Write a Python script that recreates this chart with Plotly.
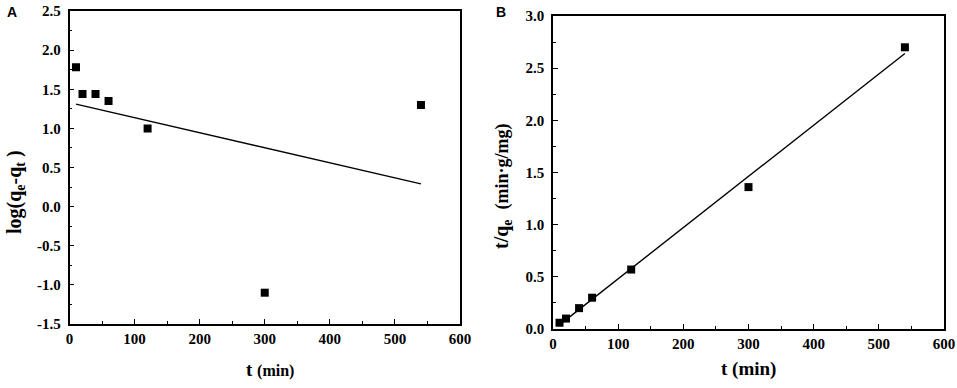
import plotly.graph_objects as go

# Panel A: pseudo-first-order
t_a = [10, 20, 40, 60, 120, 300, 540]
log_qe_qt = [1.78, 1.44, 1.44, 1.35, 1.00, -1.10, 1.30]
fit_a_t = [10, 540]
fit_a_y = [1.31, 0.29]

# Panel B: pseudo-second-order
t_b = [10, 20, 40, 60, 120, 300, 540]
t_over_qe = [0.06, 0.10, 0.20, 0.30, 0.57, 1.36, 2.70]
fit_b_t = [10, 540]
fit_b_y = [0.04, 2.64]

x_ticks = [0, 100, 200, 300, 400, 500, 600]
ya_ticks = [-1.5, -1.0, -0.5, 0.0, 0.5, 1.0, 1.5, 2.0, 2.5]
yb_ticks = [0.0, 0.5, 1.0, 1.5, 2.0, 2.5, 3.0]

W, H = 957, 388
serif = "Liberation Serif, Times New Roman, serif"
tickfont = dict(family=serif, size=15, color="black")


def px(x):
    return x / W


def py(y):
    return 1 - y / H


def bold_labels(vals, fmt):
    return ["<b>" + format(v, fmt) + "</b>" for v in vals]


def xaxis(domain, anchor):
    return dict(domain=domain, anchor=anchor, range=[0, 600], tickmode="array",
                tickvals=x_ticks, ticktext=bold_labels(x_ticks, "d"),
                ticks="inside", ticklen=5, tickwidth=1.3, tickcolor="black",
                minor=dict(ticks="inside", ticklen=3, dtick=50, tickcolor="black", tickwidth=1.3),
                showline=True, linecolor="black", linewidth=1.5, mirror=True,
                showgrid=False, zeroline=False, tickfont=tickfont, automargin=False,
                ticklabelstandoff=0)


def yaxis(domain, anchor, rng, tv):
    return dict(domain=domain, anchor=anchor, range=rng, tickmode="array",
                tickvals=tv, ticktext=bold_labels(tv, ".1f"),
                ticks="inside", ticklen=5, tickwidth=1.3, tickcolor="black",
                minor=dict(ticks="inside", ticklen=3, dtick=0.25, tickcolor="black", tickwidth=1.3),
                showline=True, linecolor="black", linewidth=1.5, mirror=True,
                showgrid=False, zeroline=False, tickfont=tickfont, automargin=False,
                ticklabelstandoff=4)


fig = go.Figure()
fig.add_trace(go.Scatter(x=t_a, y=log_qe_qt, mode="markers",
                         marker=dict(symbol="square", size=8, color="black"),
                         xaxis="x", yaxis="y", showlegend=False))
fig.add_trace(go.Scatter(x=fit_a_t, y=fit_a_y, mode="lines",
                         line=dict(color="black", width=1.4),
                         xaxis="x", yaxis="y", showlegend=False))
fig.add_trace(go.Scatter(x=t_b, y=t_over_qe, mode="markers",
                         marker=dict(symbol="square", size=8, color="black"),
                         xaxis="x2", yaxis="y2", showlegend=False))
fig.add_trace(go.Scatter(x=fit_b_t, y=fit_b_y, mode="lines",
                         line=dict(color="black", width=1.4),
                         xaxis="x2", yaxis="y2", showlegend=False))

xa = [px(69.5), px(460)]
xb = [px(553), px(944)]
ya = [py(324), py(11)]
yb = [py(329), py(16)]

fig.update_layout(
    template="simple_white",
    font=dict(family=serif, color="black"),
    width=W, height=H, margin=dict(l=0, r=0, t=0, b=0, pad=0), autosize=False,
    paper_bgcolor="white", plot_bgcolor="white",
    xaxis=xaxis(xa, "y"), yaxis=yaxis(ya, "x", [-1.5, 2.5], ya_ticks),
    xaxis2=xaxis(xb, "y2"), yaxis2=yaxis(yb, "x2", [0, 3.0], yb_ticks),
)


def note(text, x, y, size, family=serif, angle=0):
    return dict(text=text, x=px(x), y=py(y), xref="paper", yref="paper",
                xanchor="center", yanchor="middle", showarrow=False, textangle=angle,
                font=dict(family=family, size=size, color="black"))


ann = [
    note("<b>A</b>", 12, 12.5, 14, family="Liberation Sans"),
    note("<b>B</b>", 501, 11.5, 14, family="Liberation Sans"),
    note("<b>t <span style='font-size:16px'>(min)</span></b>", 270, 369, 19),
    note("<b>t (min)</b>", 748, 369, 19),
    note("<b>log(q<sub>e</sub>-q<sub>t</sub> )</b>", 15, 192, 20, angle=-90),
    note("<b>t/q<sub>e</sub>  <span style='font-size:18px'>(min·g/mg)</span></b>", 502, 186, 20, angle=-90),
]
fig.update_layout(annotations=ann)

# remove the default 8px page margin so the figure fills the window exactly
fig.write_html("out.html", config={"displayModeBar": False},
               post_script="document.body.style.margin='0';")
